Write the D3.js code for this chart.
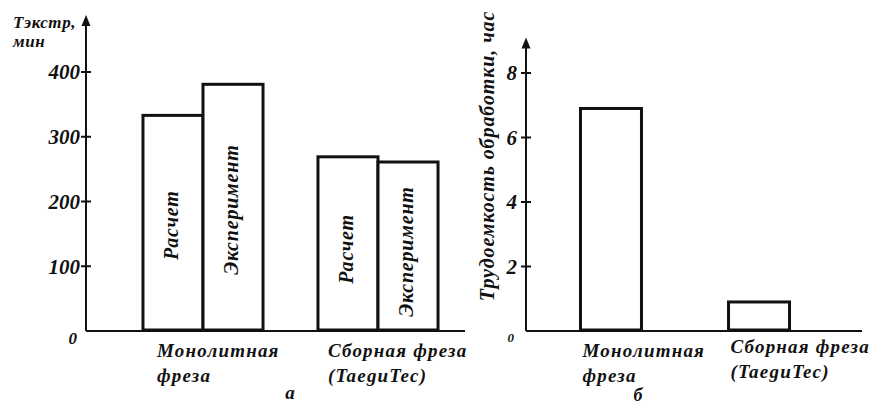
<!DOCTYPE html>
<html>
<head>
<meta charset="utf-8">
<script src="https://cdn.jsdelivr.net/npm/d3@7"></script>
<style>
  body { margin: 0; background: #fff; }
  svg { display: block; }
  text { font-family: "Liberation Serif", "Times New Roman", serif; font-weight: bold; font-style: italic; fill: #111; }
</style>
</head>
<body>
<div class="chart"></div>
<script>
const W = 875, H = 407;

// data
const categories = ["Монолитная фреза", "Сборная фреза (TaeguTec)"];
const cat_lines = [["Монолитная", "фреза"], ["Сборная фреза", "(TaeguTec)"]];
const series = ["Расчет", "Эксперимент"];
const t_calc = [333, 269];   // Тэкстр, мин - расчет
const t_exp = [381, 261];    // Тэкстр, мин - эксперимент
const labor = [6.9, 0.9];    // трудоемкость, час
const ticks_a = [0, 100, 200, 300, 400];
const ticks_b = [0, 2, 4, 6, 8];

const svg = d3.select(".chart").append("svg")
    .attr("width", W)
    .attr("height", H);

const y0 = 331;

// vertical axis with a filled arrow head at its top
function draw_axis(x, y_bottom, y_top) {
    svg.append("line")
        .attr("x1", x).attr("x2", x)
        .attr("y1", y_bottom).attr("y2", y_top + 6)
        .attr("stroke", "#111").attr("stroke-width", 2);
    svg.append("path")
        .attr("d", d3.line()([[x, y_top], [x + 4.5, y_top + 11], [x - 4.5, y_top + 11]]) + "Z")
        .attr("fill", "#111");
}

/* ---------- chart a ---------- */
const xa = d3.scaleBand()
    .domain(categories)
    .range([115.5, 465.5])
    .paddingInner(0.314)
    .paddingOuter(0.157);

const xa_inner = d3.scaleBand()
    .domain(series)
    .range([0, xa.bandwidth()]);

const ya = d3.scaleLinear()
    .domain([0, 400])
    .range([y0, 72]);

const ax_a = 86;

// x axis line
svg.append("line")
    .attr("x1", ax_a).attr("x2", 465)
    .attr("y1", ya(0)).attr("y2", ya(0))
    .attr("stroke", "#111").attr("stroke-width", 2);

draw_axis(ax_a, ya(0), ya(488));

const grp_a = svg.selectAll("g.grp_a")
    .data(categories)
    .enter()
    .append("g")
    .attr("class", "grp_a")
    .attr("transform", function(d) { return "translate(" + xa(d) + ",0)"; });

grp_a.selectAll("rect")
    .data(function(d, i) { return [t_calc[i], t_exp[i]].map(function(v, j) { return { s: series[j], v: v }; }); })
    .enter()
    .append("rect")
    .attr("x", function(d) { return xa_inner(d.s); })
    .attr("width", xa_inner.bandwidth())
    .attr("y", function(d) { return ya(d.v); })
    .attr("height", function(d) { return ya(0) - ya(d.v) - 1; })
    .attr("fill", "#fff")
    .attr("stroke", "#111")
    .attr("stroke-width", 3);

// labels inside the bars
grp_a.selectAll("text.in")
    .data(function(d, i) { return [t_calc[i], t_exp[i]].map(function(v, j) { return { s: series[j], v: v, g: i }; }); })
    .enter()
    .append("text")
    .attr("class", "in")
    .attr("transform", function(d) {
        var cx = xa_inner(d.s) + xa_inner.bandwidth() / 2 - 2;
        var cy = (ya(d.v) + ya(0)) / 2 + (d.g === 1 ? 5 : 2);
        return "translate(" + cx + "," + cy + ") rotate(-90)";
    })
    .attr("text-anchor", "middle")
    .attr("dy", "0.35em")
    .style("font-size", "20px")
    .style("letter-spacing", "0.8px")
    .text(function(d) { return d.s; });

// ticks
svg.selectAll("line.tick_a")
    .data(ticks_a.slice(1))
    .enter()
    .append("line")
    .attr("class", "tick_a")
    .attr("x1", ax_a - 5).attr("x2", ax_a + 5)
    .attr("y1", function(d) { return ya(d); })
    .attr("y2", function(d) { return ya(d); })
    .attr("stroke", "#111").attr("stroke-width", 2);

svg.selectAll("text.tl_a")
    .data(ticks_a)
    .enter()
    .append("text")
    .attr("class", "tl_a")
    .attr("x", function(d) { return d === 0 ? 77 : 80; })
    .attr("y", function(d) { return ya(d); })
    .attr("dy", function(d) { return d === 0 ? "0.75em" : "0.35em"; })
    .attr("text-anchor", "end")
    .style("font-size", function(d) { return d === 0 ? "17px" : "21px"; })
    .text(function(d) { return d; });

// y title
svg.append("text")
    .attr("x", 13).attr("y", 28)
    .style("font-size", "17px")
    .style("letter-spacing", "0.6px")
    .text("Тэкстр,");
svg.append("text")
    .attr("x", 13).attr("y", 47)
    .style("font-size", "17px")
    .style("letter-spacing", "0.6px")
    .text("мин");

// category labels
grp_a.each(function(d, i) {
    var g = d3.select(this);
    g.selectAll("text.cat")
        .data(cat_lines[i])
        .enter()
        .append("text")
        .attr("class", "cat")
        .attr("x", i === 0 ? 14 : 10)
        .attr("y", function(t, k) { return 357 + k * 25; })
        .style("font-size", "19px")
        .style("letter-spacing", "1.2px")
        .text(function(t) { return t; });
});

svg.append("text")
    .attr("x", 290).attr("y", 399)
    .attr("text-anchor", "middle")
    .style("font-size", "19px")
    .text("а");

/* ---------- chart б ---------- */
const xb = d3.scaleBand()
    .domain(categories)
    .range([526, 844])
    .paddingInner(0.588)
    .paddingOuter(0.368);

const yb = d3.scaleLinear()
    .domain([0, 8])
    .range([y0, 73]);

const ax_b = 526;

svg.append("line")
    .attr("x1", ax_b).attr("x2", 862)
    .attr("y1", yb(0)).attr("y2", yb(0))
    .attr("stroke", "#111").attr("stroke-width", 2);

draw_axis(ax_b, yb(0), yb(9.1));

svg.selectAll("rect.bar_b")
    .data(categories)
    .enter()
    .append("rect")
    .attr("class", "bar_b")
    .attr("x", function(d) { return xb(d); })
    .attr("width", xb.bandwidth())
    .attr("y", function(d, i) { return yb(labor[i]); })
    .attr("height", function(d, i) { return yb(0) - yb(labor[i]) - 1; })
    .attr("fill", "#fff")
    .attr("stroke", "#111")
    .attr("stroke-width", 3);

svg.selectAll("line.tick_b")
    .data(ticks_b.slice(1))
    .enter()
    .append("line")
    .attr("class", "tick_b")
    .attr("x1", ax_b - 5).attr("x2", ax_b + 5)
    .attr("y1", function(d) { return yb(d); })
    .attr("y2", function(d) { return yb(d); })
    .attr("stroke", "#111").attr("stroke-width", 2);

svg.selectAll("text.tl_b")
    .data(ticks_b)
    .enter()
    .append("text")
    .attr("class", "tl_b")
    .attr("x", function(d) { return d === 0 ? 514 : 517; })
    .attr("y", function(d) { return yb(d); })
    .attr("dy", function(d) { return d === 0 ? "0.85em" : "0.35em"; })
    .attr("text-anchor", "end")
    .style("font-size", function(d) { return d === 0 ? "13px" : "21px"; })
    .text(function(d) { return d; });

svg.append("text")
    .attr("transform", "translate(494,156) rotate(-90)")
    .attr("text-anchor", "middle")
    .style("font-size", "20px")
    .style("letter-spacing", "0.9px")
    .text("Трудоемкость обработки, час");

categories.forEach(function(c, i) {
    svg.selectAll("text.cat_b" + i)
        .data(cat_lines[i])
        .enter()
        .append("text")
        .attr("class", "cat_b" + i)
        .attr("x", xb(c) + 2)
        .attr("y", function(t, k) { return (i === 0 ? 357 : 353) + k * 25; })
        .style("font-size", "19px")
        .style("letter-spacing", "1.2px")
        .text(function(t) { return t; });
});

svg.append("text")
    .attr("x", 638).attr("y", 401)
    .attr("text-anchor", "middle")
    .style("font-size", "18px")
    .text("б");
</script>
</body>
</html>
